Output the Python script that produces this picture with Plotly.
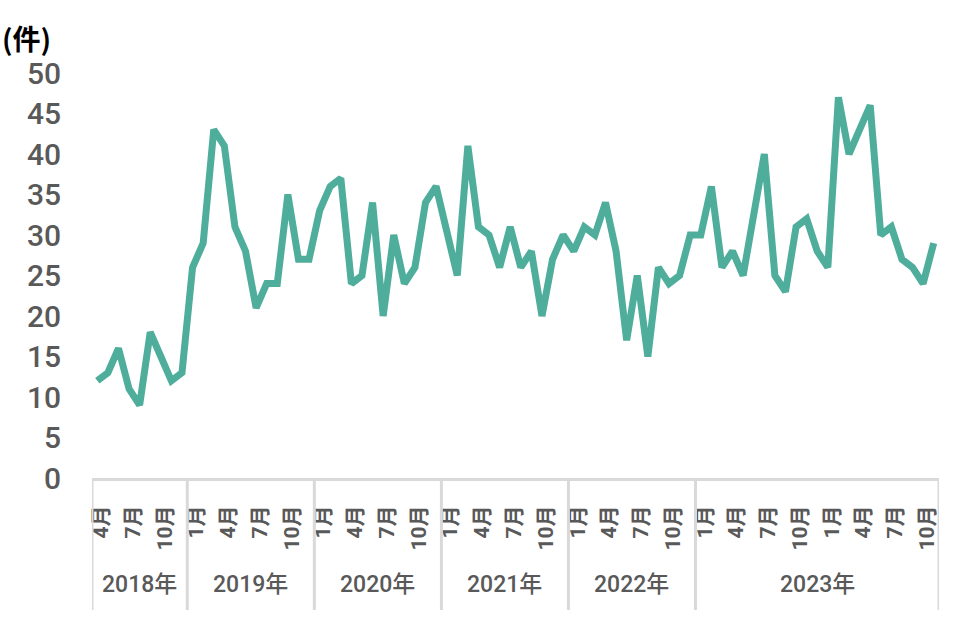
import plotly.graph_objects as go

# Monthly counts, April 2018 onward (80 points)
values = [
    12, 13, 16, 11, 9, 18, 15, 12, 13,                 # 2018 Apr-Dec
    26, 29, 43, 41, 31, 28, 21, 24, 24, 35, 27, 27,    # 2019
    33, 36, 37, 24, 25, 34, 20, 30, 24, 26, 34, 36,    # 2020
    30, 25, 41, 31, 30, 26, 31, 26, 28, 20, 27, 30,    # 2021
    28, 31, 30, 34, 28, 17, 25, 15, 26, 24, 25, 30,    # 2022
    30, 36, 26, 28, 25, 33, 40, 25, 23, 31, 32, 28,    # 2023
    26, 47, 40, 43, 46, 30, 31, 27, 26, 24, 29,        # 2024 (shown under 2023年)
]
tick_step = 3
month_ticks = ["4月", "7月", "10月",
               "1月", "4月", "7月", "10月",
               "1月", "4月", "7月", "10月",
               "1月", "4月", "7月", "10月",
               "1月", "4月", "7月", "10月",
               "1月", "4月", "7月", "10月",
               "1月", "4月", "7月", "10月"]
group_labels = ["2018年", "2019年", "2020年", "2021年", "2022年", "2023年"]
group_sizes = [9, 12, 12, 12, 12, 23]
y_ticks = [0, 5, 10, 15, 20, 25, 30, 35, 40, 45, 50]
unit_label = "(件)"

LINE_COLOR = "#4FAD9C"
TEXT_GRAY = "#595959"
AXIS_GRAY = "#D9D9D9"
FONT = "Roboto, 'Noto Sans CJK JP', sans-serif"

x = list(range(len(values)))
tick_pos = list(range(0, len(values), tick_step))[:len(month_ticks)]

fig = go.Figure()
fig.add_trace(go.Scatter(
    x=x, y=values, mode="lines",
    line=dict(color=LINE_COLOR, width=7),
    hoverinfo="skip", showlegend=False,
))

# group dividers and year labels
shapes = []
annotations = []
bottom = -0.326
start = 0
bounds = [-0.5]
for lbl, n in zip(group_labels, group_sizes):
    end = start + n
    bounds.append(end - 0.5)
    annotations.append(dict(
        x=(start + end - 1) / 2, y=-0.264, xref="x", yref="paper",
        text=lbl, showarrow=False, xanchor="center", yanchor="middle",
        font=dict(family=FONT, size=23, color=TEXT_GRAY, weight=500),
    ))
    start = end
for b in bounds:
    shapes.append(dict(
        type="line", xref="x", yref="paper", x0=b, x1=b, y0=0, y1=bottom,
        line=dict(color=AXIS_GRAY, width=3),
    ))

annotations.append(dict(
    x=-0.109, y=1.086, xref="paper", yref="paper", text=unit_label,
    showarrow=False, xanchor="left", yanchor="middle",
    font=dict(family="'Noto Sans CJK JP', sans-serif", size=28,
              color="#000000", weight="bold"),
))

fig.update_layout(
    width=956, height=628,
    margin=dict(l=92, r=17, t=73, b=150),
    paper_bgcolor="white", plot_bgcolor="white",
    shapes=shapes, annotations=annotations,
    xaxis=dict(
        range=[-0.5, len(values) - 0.5],
        tickmode="array", tickvals=tick_pos, ticktext=month_ticks,
        tickangle=-90, showgrid=False, zeroline=False,
        showline=True, linecolor=AXIS_GRAY, linewidth=3,
        ticks="", ticklabelstandoff=16, ticklabelshift=4, automargin=False,
        tickfont=dict(family=FONT, size=21, color=TEXT_GRAY, weight="bold"),
        fixedrange=True,
    ),
    yaxis=dict(
        range=[0, 50], tickmode="array", tickvals=y_ticks,
        showgrid=False, zeroline=False, showline=False,
        ticks="", ticklabelstandoff=30, automargin=False,
        tickfont=dict(family=FONT, size=30, color=TEXT_GRAY, weight=500),
        fixedrange=True,
    ),
)

fig.write_html("out.html", config={"displayModeBar": False},
               post_script="document.body.style.margin='0';")
